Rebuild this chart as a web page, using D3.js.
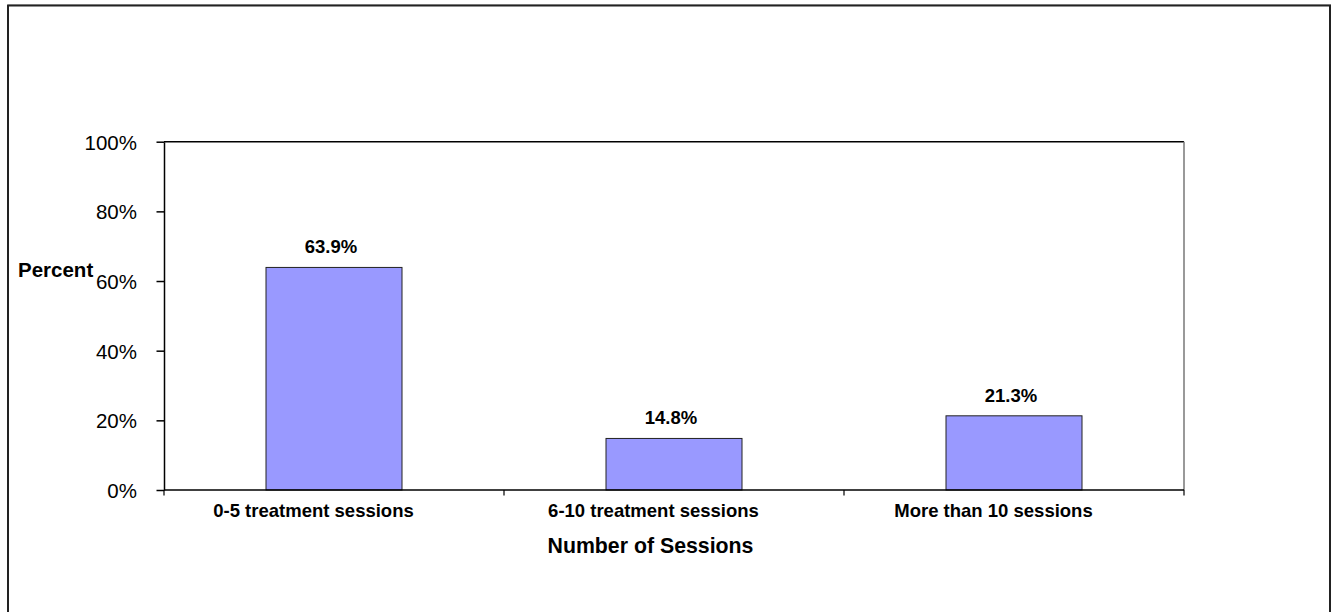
<!DOCTYPE html>
<html>
<head>
<meta charset="utf-8">
<script src="https://cdn.jsdelivr.net/npm/d3@7"></script>
<style>
  html, body { margin: 0; padding: 0; background: #fff; }
  svg { display: block; font-family: "Liberation Sans", Arial, sans-serif; }
</style>
</head>
<body>
<svg id="chart" width="1338" height="612"></svg>
<script>
const categories = ["0-5 treatment sessions", "6-10 treatment sessions", "More than 10 sessions"];
const values = [0.639, 0.148, 0.213];
const valueLabels = ["63.9%", "14.8%", "21.3%"];
const yTicks = [0, 0.2, 0.4, 0.6, 0.8, 1.0];
const yTitle = "Percent";
const xTitle = "Number of Sessions";

const svg = d3.select("#chart");

// outer frame
svg.append("line").attr("x1", 8).attr("x2", 1331).attr("y1", 4.5).attr("y2", 4.5)
  .attr("stroke", "#ccc").attr("stroke-width", 1);
svg.append("rect").attr("x", 8).attr("y", 5.5).attr("width", 1322).attr("height", 640)
  .attr("fill", "none").attr("stroke", "#222").attr("stroke-width", 2);

const pLeft = 164, pRight = 1184, pTop = 141.7, pBottom = 490;

const x = d3.scaleBand().domain(categories).range([pLeft, pRight]).padding(0);
const y = d3.scaleLinear().domain([0, 1]).range([pBottom, pTop]);

// plot area border (top + right)
svg.append("line").attr("x1", pLeft).attr("x2", pRight).attr("y1", pTop).attr("y2", pTop)
  .attr("stroke", "#000").attr("stroke-width", 1.5);
svg.append("line").attr("x1", pRight).attr("x2", pRight).attr("y1", pTop).attr("y2", pBottom)
  .attr("stroke", "#777").attr("stroke-width", 1.5);

// bars
const bw = x.bandwidth() * 0.4;
svg.append("g").selectAll("rect").data(categories).join("rect")
  .attr("x", (d) => x(d) + x.bandwidth() / 2 - bw / 2)
  .attr("y", (d, i) => y(values[i]))
  .attr("width", bw)
  .attr("height", (d, i) => y(0) - y(values[i]))
  .attr("fill", "#9999ff")
  .attr("stroke", "#222")
  .attr("stroke-width", 1);

// value labels
svg.append("g").selectAll("text").data(categories).join("text")
  .attr("x", (d) => x(d) + x.bandwidth() / 2 - 3)
  .attr("y", (d, i) => y(values[i]) - 14)
  .attr("text-anchor", "middle")
  .attr("font-size", "18.5px")
  .attr("font-weight", "bold")
  .attr("fill", "#000")
  .text((d, i) => valueLabels[i]);

// y axis
const yAxis = d3.axisLeft(y).tickValues(yTicks).tickFormat(d3.format(".0%"))
  .tickSize(7.5).tickSizeOuter(0).tickPadding(19.5);
const gy = svg.append("g").attr("transform", `translate(${pLeft},0)`).call(yAxis);
gy.select(".domain").attr("stroke", "#000").attr("stroke-width", 1.5);
gy.selectAll(".tick line").attr("stroke", "#000").attr("stroke-width", 1.5);
gy.selectAll(".tick text").attr("font-size", "20.5px").attr("fill", "#000")
  .attr("font-family", "Liberation Sans, Arial, sans-serif").attr("dy", "0.36em");

// x axis baseline
svg.append("line").attr("x1", pLeft).attr("x2", pRight).attr("y1", pBottom).attr("y2", pBottom)
  .attr("stroke", "#000").attr("stroke-width", 1.5);
// x ticks at band boundaries
const boundaries = categories.map((c) => x(c)).concat([x(categories[categories.length - 1]) + x.bandwidth()]);
svg.append("g").selectAll("line").data(boundaries).join("line")
  .attr("x1", (d) => d).attr("x2", (d) => d)
  .attr("y1", pBottom).attr("y2", pBottom + 5.5)
  .attr("stroke", "#000").attr("stroke-width", 1.2);

// category labels
svg.append("g").selectAll("text").data(categories).join("text")
  .attr("x", (d) => x(d) + x.bandwidth() / 2 - 20.5)
  .attr("y", 517)
  .attr("text-anchor", "middle")
  .attr("font-size", "18.5px")
  .attr("font-weight", "bold")
  .attr("fill", "#000")
  .text((d) => d);

// axis titles
svg.append("text").attr("x", 650.5).attr("y", 553)
  .attr("text-anchor", "middle").attr("font-size", "21.3px").attr("font-weight", "bold")
  .attr("fill", "#000").text(xTitle);
svg.append("text").attr("x", 18).attr("y", 277)
  .attr("text-anchor", "start").attr("font-size", "20.5px").attr("font-weight", "bold")
  .attr("fill", "#000").text(yTitle);
</script>
</body>
</html>
